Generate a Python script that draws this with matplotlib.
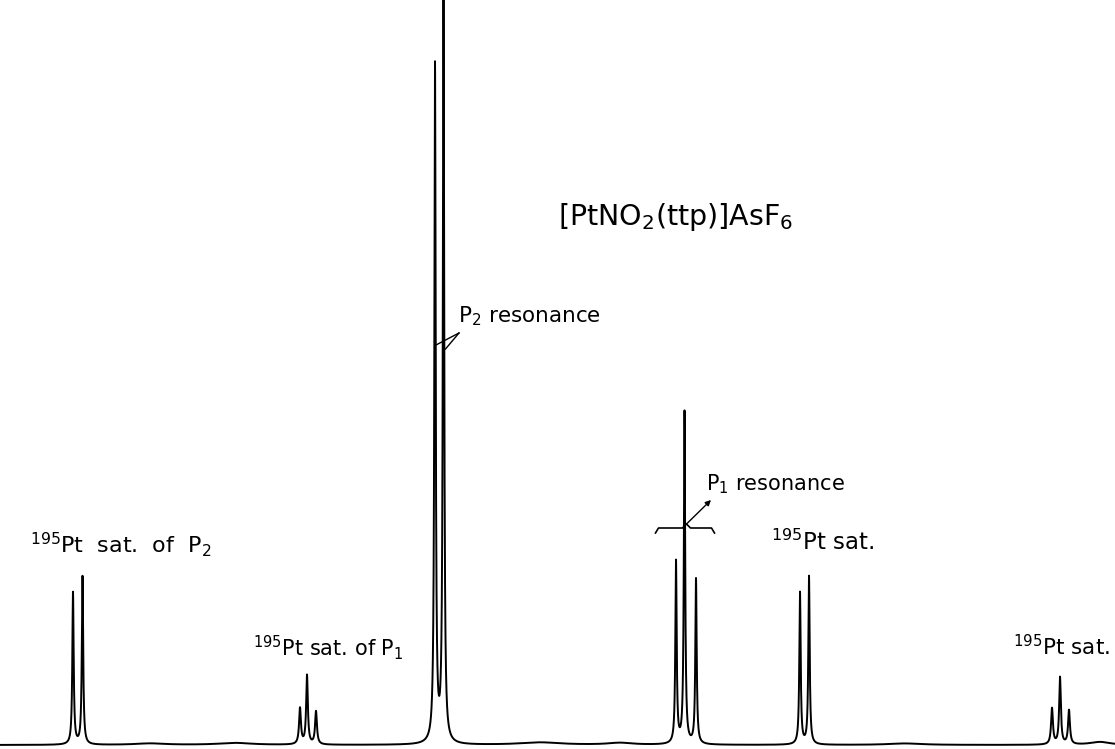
import numpy as np
import matplotlib.pyplot as plt

plt.rcParams['font.family'] = ['DejaVu Sans']
plt.rcParams['mathtext.default'] = 'regular'

# peak list (x position, height above baseline, half width)
peak_pos = [73, 82.5,                 # 195Pt sat. of P2
            300, 307, 316,            # 195Pt sat. of P1
            435, 443.5,               # P2 resonance
            676, 684.5, 696,          # P1 resonance
            800, 809,                 # 195Pt sat.
            1052, 1060, 1069]         # 195Pt sat.
peak_height = [152, 168,
               36, 69, 33,
               677, 752,
               182, 332, 165,
               152, 168,
               36, 67, 34]
peak_width = [0.8, 0.8,
              1.1, 1.0, 1.1,
              0.8, 0.8,
              0.8, 0.8, 0.8,
              0.8, 0.8,
              1.1, 1.0, 1.1]

# slow baseline wobble
bump_pos = [150, 235, 540, 620, 905, 1100]
bump_height = [1.5, 2.0, 2.5, 2.0, 1.5, 3.0]
bump_width = [18, 20, 25, 15, 20, 12]


def spectrum(x, pos, height, width):
    y = np.zeros_like(x)
    for x0, h, w in zip(pos, height, width):
        y += h / (1.0 + ((x - x0) / w) ** 2)
    return y


x = np.linspace(0, 1115, 22301)
y = spectrum(x, peak_pos, peak_height, peak_width) + \
    spectrum(x, bump_pos, bump_height, bump_width)

fig = plt.figure(figsize=(11.15, 7.49), dpi=100)
ax = fig.add_axes([0, 0, 1, 1])
ax.plot(x, y, color='black', lw=1.4)
ax.set_xlim(0, 1115)
ax.set_ylim(-4, 745)
ax.axis('off')

ax.text(558, 520, r'[PtNO$_2$(ttp)]AsF$_6$', fontsize=20.5, va='baseline')
ax.text(458, 423, r'P$_2$ resonance', fontsize=15.5, va='baseline')
ax.text(706, 255, r'P$_1$ resonance', fontsize=15, va='baseline')
ax.text(30, 192, r'$^{195}$Pt  sat.  of  P$_2$', fontsize=16, va='baseline')
ax.text(253, 89, r'$^{195}$Pt sat. of P$_1$', fontsize=15, va='baseline')
ax.text(771, 195, r'$^{195}$Pt sat.', fontsize=16.5, va='baseline')
ax.text(1013, 90, r'$^{195}$Pt sat.', fontsize=15.5, va='baseline')

# pointers to the P2 lines
for px, py in [(peak_pos[5] + 1, 400), (peak_pos[6] + 2, 396)]:
    ax.plot([459, px], [412, py], color='black', lw=1.0)

# brace over the P1 multiplet and arrow to its label
cx = peak_pos[8] + 2
bx = [cx - 31, cx - 28, cx - 4, cx, cx + 4, cx + 25, cx + 28]
by = [212, 217, 217, 221, 217, 217, 212]
ax.plot(bx, by, color='black', lw=1.2)
ax.annotate('', xy=(711, 245), xytext=(cx, 221),
            arrowprops=dict(arrowstyle='-|>', color='black', lw=1.0,
                            mutation_scale=8, shrinkA=0, shrinkB=0))

fig.savefig('out.png', dpi=100, facecolor='white')
